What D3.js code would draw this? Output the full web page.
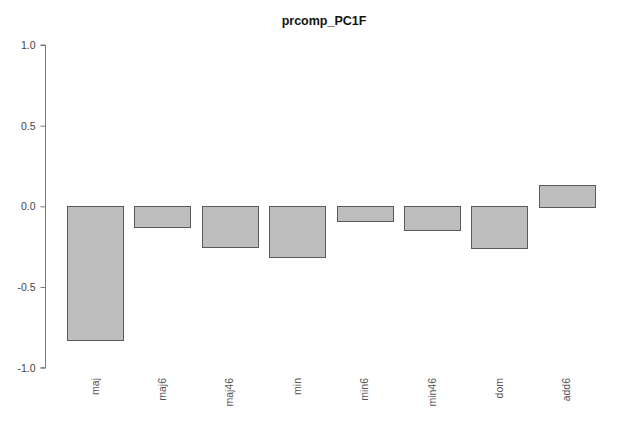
<!DOCTYPE html>
<html><head><meta charset="utf-8">
<script src="https://cdn.jsdelivr.net/npm/d3@7"></script>
<style>body{margin:0;background:#fff}svg{display:block}</style>
</head><body>
<svg id="c" width="639" height="424"></svg>
<script>
const categories = ["maj","maj6","maj46","min","min6","min46","dom","add6"];
const values = [-0.83,-0.132,-0.256,-0.318,-0.095,-0.15,-0.262,0.134];
const yTicks = [-1.0,-0.5,0.0,0.5,1.0];
const title = "prcomp_PC1F";

const svg = d3.select("#c");
const font = "Liberation Sans, Arial, sans-serif";
const x = d3.scaleBand().domain(categories).range([67, 595]).paddingInner(0.2/1.2).paddingOuter(0);
const y = d3.scaleLinear().domain([-1, 1]).range([367.7, 45]);

svg.selectAll("rect.bar").data(values).enter().append("rect")
  .attr("class","bar")
  .attr("x",(d,i)=>Math.round(x(categories[i]))+0.5)
  .attr("width",Math.round(x.bandwidth()))
  .attr("y",d=>Math.round(y(Math.max(0,d)))+0.5)
  .attr("height",d=>Math.round(Math.abs(y(d)-y(0))))
  .attr("fill","#bebebe").attr("stroke","#5a5a5a").attr("stroke-width",1);

const ya = svg.append("g").attr("transform","translate(45.5,0)")
  .call(d3.axisLeft(y).tickValues(yTicks).tickFormat(d=>d.toFixed(1)).tickSize(5).tickPadding(5));
ya.select(".domain").attr("stroke","#777").attr("d",`M-5,${y(-1)}H0V${y(1)}H-5`);
ya.selectAll(".tick line").attr("stroke","#777");
ya.selectAll(".tick text").attr("fill","#444").style("font-family",font).style("font-size","10.5px");

svg.selectAll("text.xl").data(categories).enter().append("text")
  .attr("class","xl")
  .attr("transform",d=>`translate(${x(d)+x.bandwidth()/2+3.5},378) rotate(-90)`)
  .attr("text-anchor","end")
  .attr("fill","#555")
  .style("font-family",font).style("font-size","10.5px")
  .text(d=>d);

svg.append("text").attr("x",324).attr("y",25).attr("text-anchor","middle")
  .style("font-family",font).style("font-size","12.5px").style("font-weight","bold")
  .attr("fill","#111").text(title);
</script>
</body></html>
